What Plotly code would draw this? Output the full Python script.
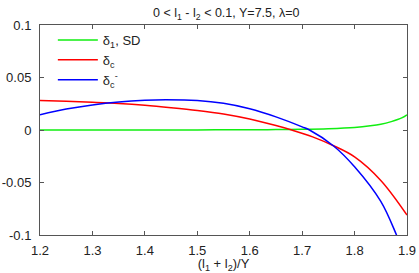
import plotly.graph_objects as go

# data
x_green = [1.2, 1.3, 1.4, 1.5, 1.6, 1.65, 1.7, 1.75, 1.8, 1.83, 1.85, 1.87, 1.89, 1.9]
y_green = [0.0, 0.0, 0.0, 0.0001, 0.0002, 0.0004, 0.0007, 0.0013, 0.0025, 0.004, 0.0055, 0.008, 0.0115, 0.0145]

x_red = [1.2, 1.25, 1.3, 1.35, 1.4, 1.45, 1.5, 1.55, 1.6, 1.65, 1.68, 1.72, 1.76, 1.8, 1.85, 1.9]
y_red = [0.028, 0.0273, 0.0264, 0.0253, 0.0236, 0.0213, 0.0186, 0.0152, 0.0104, 0.0042, 0.0, -0.0065, -0.015, -0.0256, -0.048, -0.081]

x_blue = [1.2, 1.25, 1.3, 1.35, 1.4, 1.44, 1.5, 1.55, 1.6, 1.65, 1.7, 1.714, 1.76, 1.8, 1.85, 1.88, 1.9]
y_blue = [0.0146, 0.0199, 0.0239, 0.0267, 0.0283, 0.0287, 0.0281, 0.0254, 0.0202, 0.0125, 0.003, 0.0, -0.0152, -0.035, -0.068, -0.1, -0.125]

x_ticks = [1.2, 1.3, 1.4, 1.5, 1.6, 1.7, 1.8, 1.9]
x_ticktext = ["1.2", "1.3", "1.4", "1.5", "1.6", "1.7", "1.8", "1.9"]
y_ticks = [0.1, 0.05, 0.0, -0.05, -0.1]
y_ticktext = ["0.1", "0.05", "0", "-0.05", "-0.1"]

names = ["δ<sub>1</sub>, SD", "δ<sub>c</sub>", "δ<sub>c</sub><sup>-</sup>"]

fig = go.Figure()
fig.add_trace(go.Scatter(x=x_green, y=y_green, mode="lines", name=names[0],
                         line=dict(color="#11ee11", width=1.5, shape="spline")))
fig.add_trace(go.Scatter(x=x_red, y=y_red, mode="lines", name=names[1],
                         line=dict(color="#ff0000", width=1.5, shape="spline")))
fig.add_trace(go.Scatter(x=x_blue, y=y_blue, mode="lines", name=names[2],
                         line=dict(color="#0000ff", width=1.5, shape="spline")))

axis_common = dict(showline=True, linecolor="#555555", linewidth=1, mirror="ticks",
                   ticks="inside", ticklen=4, tickcolor="#555555", showgrid=False,
                   zeroline=False, tickfont=dict(size=13, color="#222222"),
                   automargin=False)

fig.update_layout(
    width=419, height=273,
    margin=dict(l=40, r=12, t=25, b=38),
    paper_bgcolor="white", plot_bgcolor="white",
    font=dict(family="Liberation Sans, Arial, sans-serif", size=13, color="#222222"),
    title=dict(text="0 < l<sub>1</sub> - l<sub>2</sub> < 0.1, Y=7.5, λ=0",
               x=0.54, xanchor="center", y=0.97, yanchor="top",
               font=dict(size=12.5)),
    xaxis=dict(range=[1.2, 1.9], tickvals=x_ticks, ticktext=x_ticktext,
               ticklabelstandoff=3,
               title=dict(text="(l<sub>1</sub> + l<sub>2</sub>)/Y", font=dict(size=13), standoff=2),
               **axis_common),
    yaxis=dict(range=[-0.1, 0.1], tickvals=y_ticks, ticktext=y_ticktext,
               ticklabelstandoff=5, **axis_common),
    legend=dict(x=0.035, y=1.0, xanchor="left", yanchor="top", bgcolor="rgba(0,0,0,0)",
                font=dict(size=13), tracegroupgap=0, itemwidth=40),
    showlegend=True,
)

fig.write_html("out.html", config={"displayModeBar": False},
               post_script="document.body.style.margin='0px';")
